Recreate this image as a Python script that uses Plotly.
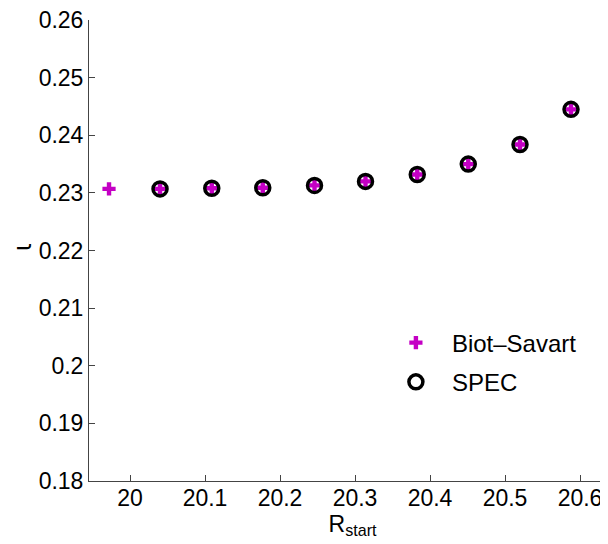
import plotly.graph_objects as go

# R_start positions and rotational transform values
r_biot = [19.972, 20.040, 20.109, 20.177, 20.246, 20.314, 20.383, 20.451, 20.520, 20.588]
iota_biot = [0.2307, 0.2307, 0.2308, 0.2309, 0.2313, 0.2320, 0.2332, 0.2350, 0.2384, 0.2445]

r_spec = [20.040, 20.109, 20.177, 20.246, 20.314, 20.383, 20.451, 20.520, 20.588]
iota_spec = [0.2307, 0.2308, 0.2309, 0.2313, 0.2320, 0.2332, 0.2350, 0.2384, 0.2445]

x_ticks = [20, 20.1, 20.2, 20.3, 20.4, 20.5, 20.6]
y_ticks = [0.18, 0.19, 0.2, 0.21, 0.22, 0.23, 0.24, 0.25, 0.26]

font = dict(family="Liberation Sans, Arial, Helvetica", size=23, color="black")

fig = go.Figure()
fig.add_trace(go.Scatter(x=r_biot, y=iota_biot, mode='markers', name='Biot\u2013Savart',
                         legendgroup='a',
                         marker=dict(symbol='cross', size=11, color='#c400c4', line=dict(width=0))))
fig.add_trace(go.Scatter(x=r_spec, y=iota_spec, mode='markers', name='SPEC',
                         legendgroup='b',
                         marker=dict(symbol='circle-open', size=14, color='black', line=dict(width=3.5))))

fig.update_xaxes(range=[19.9453, 20.648], tickvals=x_ticks, ticktext=[str(v) for v in x_ticks],
                 ticks='inside', ticklen=6, tickcolor='#444', showline=True, linecolor='#444',
                 linewidth=1, showgrid=False, zeroline=False, tickfont=font,
                 ticklabelstandoff=-4, ticklabeloverflow='allow',
                 title=dict(text='R<sub>start</sub>', font=font, standoff=0))
fig.update_yaxes(range=[0.18, 0.26001], tickvals=y_ticks, ticktext=[f'{v:g}' for v in y_ticks],
                 ticks='inside', ticklen=6, tickcolor='#444', showline=True, linecolor='#444',
                 linewidth=1, showgrid=False, zeroline=False, tickfont=font,
                 ticklabeloverflow='allow')

# y-axis label (iota), placed as an annotation so it sits where the reference has it
fig.add_annotation(text='\u03b9', textangle=-90, showarrow=False,
                   xref='paper', x=-0.126, xanchor='center',
                   yref='y', y=0.2205, yanchor='middle',
                   font=dict(family="DejaVu Sans", size=24, color="black"))

fig.update_layout(width=608, height=544, template='none',
                  paper_bgcolor='white', plot_bgcolor='white', font=font,
                  margin=dict(l=81, r=0, t=12, b=71),
                  legend=dict(x=0.552, y=0.348, xanchor='left', yanchor='top',
                              bgcolor='rgba(0,0,0,0)', tracegroupgap=5, itemwidth=62,
                              font=dict(family="Liberation Sans, Arial, Helvetica", size=24)))

fig.write_html("out.html")
